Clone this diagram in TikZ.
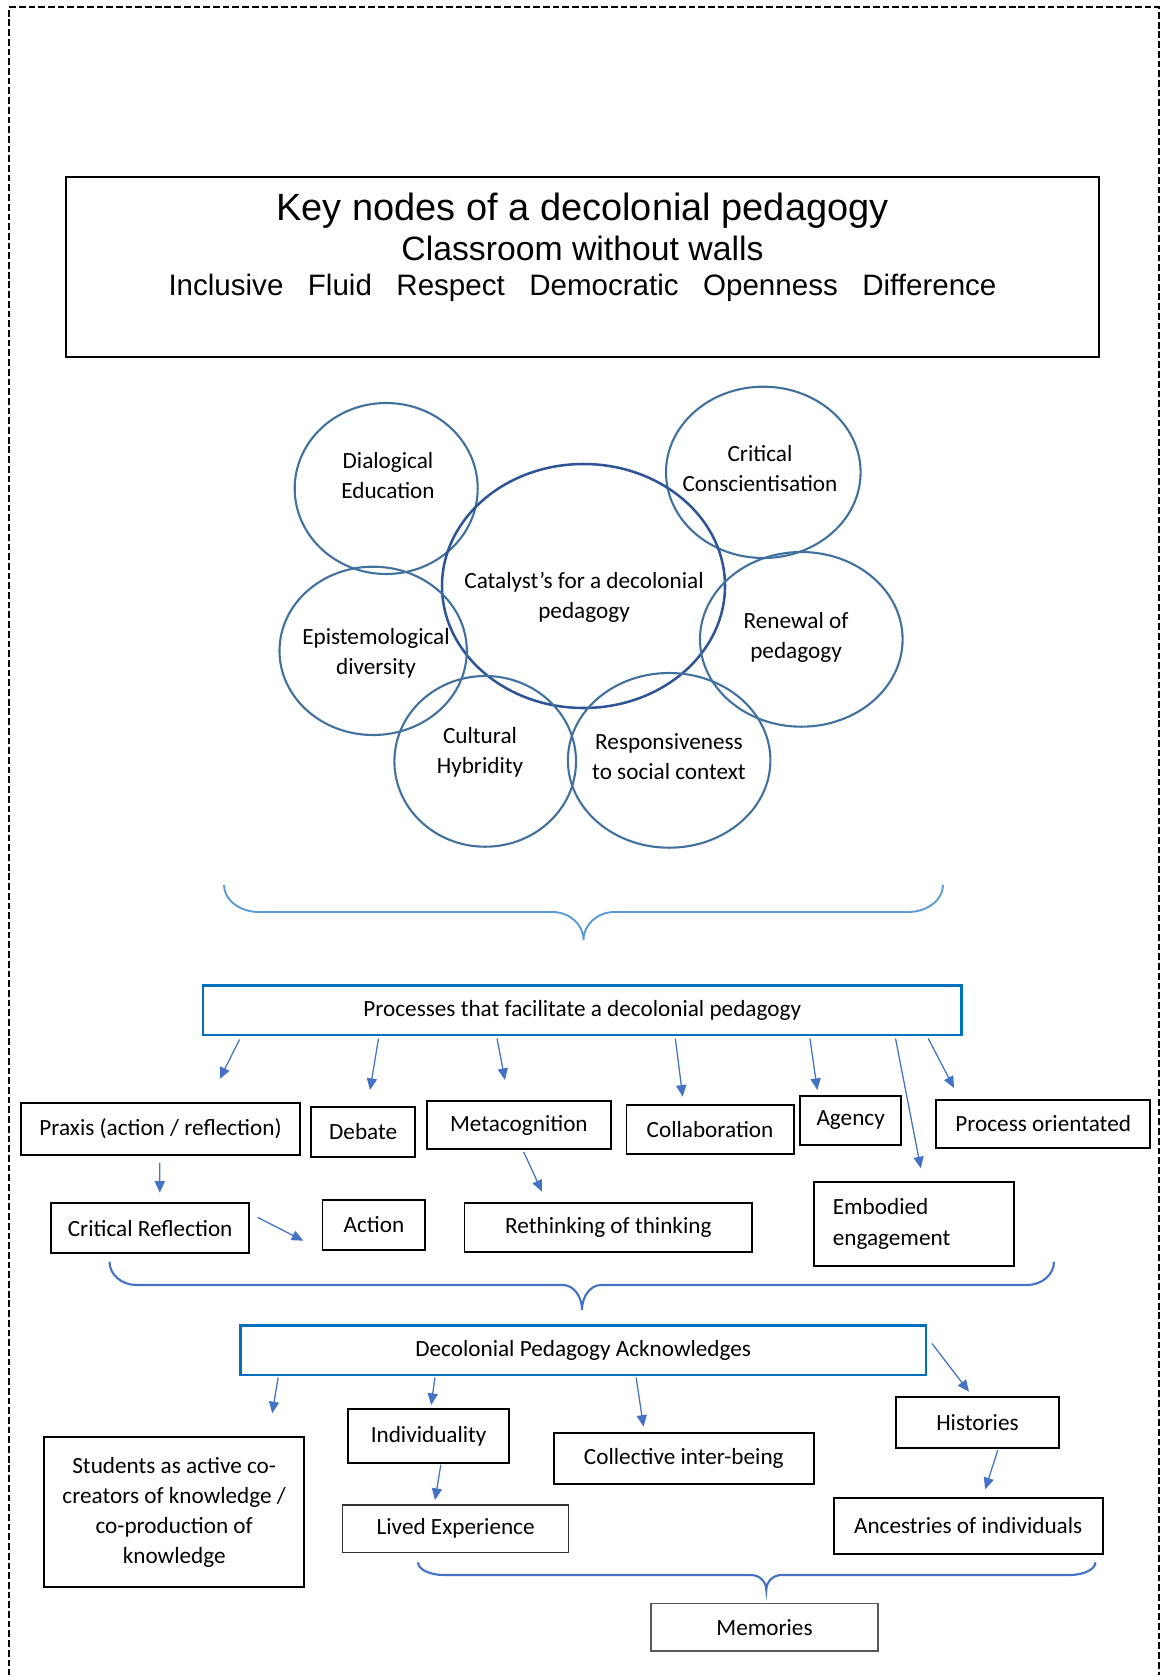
\documentclass[tikz,border=0pt]{standalone}
\usepackage{fontspec}
\setmainfont{Carlito}
\newfontfamily\headfont{Liberation Sans}
\usetikzlibrary{arrows.meta,shapes.geometric,calc}

\definecolor{ringblue}{HTML}{41719C}
\definecolor{coreblue}{HTML}{2F5597}
\definecolor{lightbrace}{HTML}{5B9BD5}
\definecolor{accent}{HTML}{4472C4}
\definecolor{frameblue}{HTML}{0070C0}

\tikzset{
  % place a node over the span (x1,y1)--(x2,y2), coordinates in pixels
  span/.style n args={4}{
    at={({(#1+#3)/2},{(#2+#4)/2})},
    minimum width={(#3-#1)*0.474pt},
    minimum height={(#4-#2)*0.474pt}},
  txt/.style={font=\fontsize{11pt}{14.2pt}\selectfont, align=center, inner sep=0pt},
  box/.style={draw=black, line width=0.9pt, inner sep=0pt, txt},
  thinbox/.style={draw=black!80, line width=0.6pt, inner sep=0pt, txt},
  greybox/.style={draw=black!65, line width=0.7pt, inner sep=0pt, txt},
  headbox/.style={draw=frameblue, line width=1.4pt, inner sep=0pt, txt},
  ring/.style={ellipse, draw=ringblue, line width=1pt, inner sep=0pt},
  core/.style={ellipse, draw=coreblue, line width=1.2pt, inner sep=0pt},
  arr/.style={draw=accent, line width=0.6pt, -{Triangle[length=5.5pt,width=4.8pt]}},
  head/.style={font=\headfont\fontsize{#1}{#1}\selectfont, anchor=base, inner sep=0pt},
  framestyle/.style={draw=black, line width=0.9pt, dash pattern=on 3.2pt off 1.4pt}
}

% curly brace: style, left x, tip x, right x, top y, bar y, tip y, end radius, middle radius
\newcommand\curlybrace[9]{%
  \draw[#1] (#2,#5)
    .. controls (#2,{#5+0.552*(#6-#5)}) and ({#2+0.448*#8},#6) .. ({#2+#8},#6)
    -- ({#3-#9},#6)
    .. controls ({#3-0.448*#9},#6) and (#3,{#7-0.552*(#7-#6)}) .. (#3,#7)
    .. controls (#3,{#7-0.552*(#7-#6)}) and ({#3+0.448*#9},#6) .. ({#3+#9},#6)
    -- ({#4-#8},#6)
    .. controls ({#4-0.448*#8},#6) and (#4,{#5+0.552*(#6-#5)}) .. (#4,#5);
}

\begin{document}
\begin{tikzpicture}[x=0.474pt, y=-0.474pt]
\useasboundingbox (0,0) rectangle (1160,1675);

% page frame
\draw[framestyle] (9,1676) -- (9,7) -- (1159,7) -- (1159,1676);

% heading
\node[draw=black, line width=0.9pt, inner sep=0pt, span={66}{177}{1099}{357}] (title) {};
\node[head=18pt] (t1) at (582.5,220) {Key nodes of a decolonial pedagogy};
\node[head=16pt] (t2) at (582.5,261) {Classroom without walls};
\node[head=14pt] (t3) at (582.5,295.7) {Inclusive\hspace{0.83em}Fluid\hspace{0.83em}Respect\hspace{0.83em}Democratic\hspace{0.83em}Openness\hspace{0.83em}Difference};

% cluster of catalysts
\node[ring, span={294.7}{403}{477.7}{574}] (dial) {};
\node[ring, span={666}{386.7}{860.6}{558}] (crit) {};
\node[core, span={442}{464}{725}{708}] (cat) {};
\node[ring, span={279.5}{566.7}{466.8}{735}] (epis) {};
\node[ring, span={700}{552}{902.6}{726.7}] (renew) {};
\node[ring, span={394.4}{676}{576}{846.7}] (cult) {};
\node[ring, span={567.9}{673}{770.4}{847.7}] (resp) {};

\node[txt] (dialt) at (388,476) {Dialogical\\Education};
\node[txt] (critt) at (760,468.5) {Critical\\Conscientisation};
\node[txt] (catt) at (584,597.5) {Catalyst’s for a decolonial\\pedagogy};
\node[txt] (epist) at (376,653.5) {Epistemological\\diversity};
\node[txt] (renewt) at (796,637.5) {Renewal of\\pedagogy};
\node[txt] (cultt) at (480,752) {Cultural\\Hybridity};
\node[txt] (respt) at (669,757) {Responsiveness\\to social context};

\curlybrace{lightbrace, line width=0.9pt}{224}{583.5}{943}{885}{912}{940}{35}{31}

% processes
\node[headbox, span={203}{985.7}{961.5}{1035}] (proc) {Processes that facilitate a decolonial pedagogy};

\node[box, span={20.7}{1102.7}{300.3}{1155}] (praxis) {Praxis (action / reflection)};
\node[box, span={311.4}{1106.7}{415}{1156.7}] (debate) {Debate};
\node[box, span={426.8}{1100.7}{611}{1149.3}] (meta) {Metacognition};
\node[box, span={626.5}{1105}{793.6}{1154.3}] (collab) {Collaboration};
\node[box, span={800.3}{1095.7}{901}{1145.3}] (agency) {Agency};
\node[box, span={936.4}{1100}{1150}{1147.7}] (procor) {Process orientated};
\node[box, span={51}{1203}{249.3}{1253.3}] (critref) {Critical Reflection};
\node[box, span={322.5}{1200}{425.3}{1250}] (action) {Action};
\node[box, span={464.5}{1202.7}{752.2}{1252.3}] (rethink) {Rethinking of thinking};
\node[box, align=left, text width=77pt, span={814}{1181.7}{1014}{1266}] (embod) {Embodied\\[0.4pt]engagement};

\coordinate (p1) at (219.7,1079);
\coordinate (p2) at (370,1090);
\coordinate (p3) at (505,1080);
\coordinate (p4) at (682.7,1096.7);
\coordinate (p5) at (817.3,1090);
\coordinate (p6) at (920.8,1168.3);
\coordinate (p7) at (954,1088);
\coordinate (p8) at (159.8,1192.7);
\coordinate (p9) at (303.3,1240.7);
\coordinate (p10) at (542,1191.7);

\draw[arr] ($(proc.south west)+(38,3)$) -- (p1);
\draw[arr] ($(proc.south west)+(177,2)$) -- (p2);
\draw[arr] ($(proc.south west)+(295.5,2)$) -- (p3);
\draw[arr] ($(proc.south west)+(473.8,2)$) -- (p4);
\draw[arr] ($(proc.south west)+(608.4,2)$) -- (p5);
\draw[arr] ($(proc.south west)+(694,2)$) -- (p6);
\draw[arr] ($(proc.south west)+(726.7,2)$) -- (p7);
\draw[arr] ($(praxis.south)+(-0.7,7)$) -- (p8);
\draw[arr] ($(critref.north east)+(7.4,15.3)$) -- (p9);
\draw[arr] ($(meta.south)+(4.8,1.7)$) -- (p10);

\curlybrace{accent, line width=1pt}{109.5}{582}{1054}{1261.7}{1285}{1310}{27}{19}

% acknowledgements
\node[headbox, span={240.4}{1325.7}{926}{1375}] (ack) {Decolonial Pedagogy Acknowledges};

\node[box, span={44.4}{1437.3}{304}{1586.7}] (stud) {Students as active co-\\creators of knowledge /\\co-production of\\knowledge};
\node[box, span={348.4}{1409.3}{508.9}{1462.7}] (indiv) {Individuality};
\node[box, span={554}{1432.7}{813.6}{1484.3}] (collect) {Collective inter-being};
\node[box, span={895.7}{1396.7}{1059.2}{1448.3}] (hist) {Histories};
\node[thinbox, span={342.5}{1505}{568.8}{1552.3}] (lived) {Lived Experience};
\node[box, span={833.6}{1497.7}{1102.8}{1554}] (ancest) {Ancestries of individuals};

\coordinate (q1) at (272.2,1413.3);
\coordinate (q2) at (431.2,1405);
\coordinate (q3) at (643.5,1426.7);
\coordinate (q4) at (969,1391.7);
\coordinate (q5) at (435,1500);
\coordinate (q6) at (985.2,1489.3);

\draw[arr] ($(ack.south west)+(39.2,1)$) -- (q1);
\draw[arr] ($(ack.south west)+(196,1)$) -- (q2);
\draw[arr] ($(ack.south west)+(397.2,1)$) -- (q3);
\draw[arr] ($(ack.north east)+(4.5,19.3)$) -- (q4);
\draw[arr] ($(indiv.south)+(12.2,1)$) -- (q5);
\draw[arr] ($(hist.south)+(20.3,1)$) -- (q6);

\curlybrace{accent, line width=1pt}{418}{766.3}{1095.4}{1562.3}{1575}{1590}{26}{15}

\node[greybox, span={651}{1603.3}{878}{1651}] (mem) {Memories};

\end{tikzpicture}
\end{document}
